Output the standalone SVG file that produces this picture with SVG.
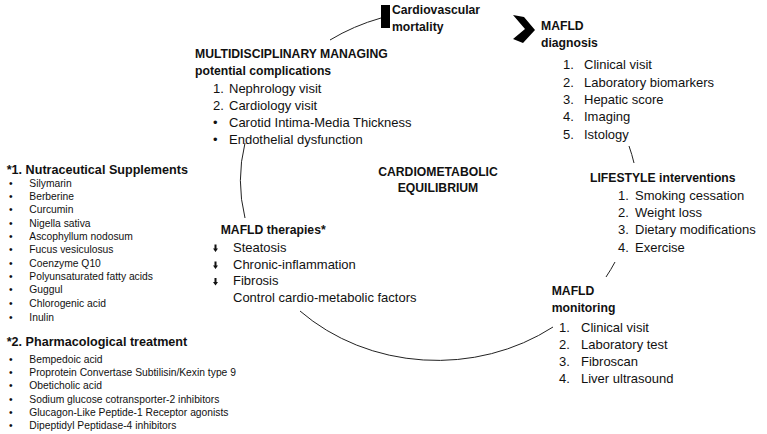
<svg xmlns="http://www.w3.org/2000/svg" width="767" height="434" viewBox="0 0 767 434">
<style>
text{font-family:"Liberation Sans",Arial,sans-serif;fill:#111}
.h{font-weight:bold;font-size:12.2px}
.t{font-size:13px}
.lh{font-weight:bold;font-size:12.6px}
.li{font-size:10.3px}
.arc{fill:none;stroke:#222;stroke-width:1}
</style>
<rect width="767" height="434" fill="#fff"/>
<g id="connectors">
<path class="arc" d="M 330 40 A 197 175 0 0 1 381 18"/>
<path class="arc" d="M 245 143 A 197 175 0 0 0 245 218"/>
<path class="arc" d="M 300 311 A 197 175 0 0 0 553 327"/>
<path class="arc" d="M 606 277 A 197 175 0 0 0 615 262"/>
<path class="arc" d="M 629 146 A 197 175 0 0 1 634 163"/>
<rect x="381" y="5" width="9" height="23" fill="#000"/>
<polygon points="513,15 524,17 535,30 523,43 513,39 525,29" fill="#000"/>
</g>
<g id="cv-mortality">
<text class="h" x="392" y="14">Cardiovascular</text>
<text class="h" x="392" y="30.5">mortality</text>
</g>
<g id="mafld-diagnosis">
<text class="h" x="541" y="30">MAFLD</text>
<text class="h" x="541" y="46.7">diagnosis</text>
<text class="t" x="563" y="69.3">1.</text><text class="t" x="584" y="69.3">Clinical visit</text>
<text class="t" x="563" y="86.6">2.</text><text class="t" x="584" y="86.6">Laboratory biomarkers</text>
<text class="t" x="563" y="103.9">3.</text><text class="t" x="584" y="103.9">Hepatic score</text>
<text class="t" x="563" y="121.2">4.</text><text class="t" x="584" y="121.2">Imaging</text>
<text class="t" x="563" y="138.5">5.</text><text class="t" x="584" y="138.5">Istology</text>
</g>
<g id="multidisciplinary">
<text class="h" x="195" y="58.3">MULTIDISCIPLINARY MANAGING</text>
<text class="h" x="195" y="74.5">potential complications</text>
<text class="t" x="213" y="92.7">1.</text><text class="t" x="229" y="92.7">Nephrology visit</text>
<text class="t" x="213" y="109.7">2.</text><text class="t" x="229" y="109.7">Cardiology visit</text>
<text class="t" x="213" y="126.7">•</text><text class="t" x="229" y="126.7">Carotid Intima-Media Thickness</text>
<text class="t" x="213" y="143.7">•</text><text class="t" x="229" y="143.7">Endothelial dysfunction</text>
</g>
<g id="center">
<text class="h" x="438" y="176" text-anchor="middle">CARDIOMETABOLIC</text>
<text class="h" x="438" y="192.3" text-anchor="middle">EQUILIBRIUM</text>
</g>
<g id="lifestyle">
<text class="h" x="590" y="181.7">LIFESTYLE interventions</text>
<text class="t" x="618" y="200">1.</text><text class="t" x="635" y="200">Smoking cessation</text>
<text class="t" x="618" y="217.2">2.</text><text class="t" x="635" y="217.2">Weight loss</text>
<text class="t" x="618" y="234.4">3.</text><text class="t" x="635" y="234.4">Dietary modifications</text>
<text class="t" x="618" y="251.6">4.</text><text class="t" x="635" y="251.6">Exercise</text>
</g>
<g id="mafld-monitoring">
<text class="h" x="551.7" y="295">MAFLD</text>
<text class="h" x="551.7" y="311.7">monitoring</text>
<text class="t" x="559" y="331.7">1.</text><text class="t" x="581" y="331.7">Clinical visit</text>
<text class="t" x="559" y="348.9">2.</text><text class="t" x="581" y="348.9">Laboratory test</text>
<text class="t" x="559" y="366.1">3.</text><text class="t" x="581" y="366.1">Fibroscan</text>
<text class="t" x="559" y="383.3">4.</text><text class="t" x="581" y="383.3">Liver ultrasound</text>
</g>
<g id="mafld-therapies">
<text class="h" x="220.7" y="234">MAFLD therapies*</text>
<path d="M214.5 244.5h2v4h1.5l-2.5 3.5l-2.5-3.5h1.5z" fill="#111"/>
<text class="t" x="233" y="251.5">Steatosis</text>
<path d="M214.5 261.5h2v4h1.5l-2.5 3.5l-2.5-3.5h1.5z" fill="#111"/>
<text class="t" x="233" y="268.5">Chronic-inflammation</text>
<path d="M214.5 278h2v4h1.5l-2.5 3.5l-2.5-3.5h1.5z" fill="#111"/>
<text class="t" x="233" y="285.3">Fibrosis</text>
<text class="t" x="233" y="302.3">Control cardio-metabolic factors</text>
</g>
<g id="nutraceutical">
<text class="lh" x="6.7" y="174">*1. Nutraceutical Supplements</text>
<g class="li">
<text class="li" x="9" y="186.7">•</text><text class="li" x="29.3" y="186.7">Silymarin</text>
<text class="li" x="9" y="200">•</text><text class="li" x="29.3" y="200">Berberine</text>
<text class="li" x="9" y="213.3">•</text><text class="li" x="29.3" y="213.3">Curcumin</text>
<text class="li" x="9" y="226.6">•</text><text class="li" x="29.3" y="226.6">Nigella sativa</text>
<text class="li" x="9" y="239.9">•</text><text class="li" x="29.3" y="239.9">Ascophyllum nodosum</text>
<text class="li" x="9" y="253.2">•</text><text class="li" x="29.3" y="253.2">Fucus vesiculosus</text>
<text class="li" x="9" y="266.5">•</text><text class="li" x="29.3" y="266.5">Coenzyme Q10</text>
<text class="li" x="9" y="279.8">•</text><text class="li" x="29.3" y="279.8">Polyunsaturated fatty acids</text>
<text class="li" x="9" y="293.1">•</text><text class="li" x="29.3" y="293.1">Guggul</text>
<text class="li" x="9" y="306.9">•</text><text class="li" x="29.3" y="306.9">Chlorogenic acid</text>
<text class="li" x="9" y="320.5">•</text><text class="li" x="29.3" y="320.5">Inulin</text>
</g>
</g>
<g id="pharmacological">
<text class="lh" x="6.7" y="346">*2. Pharmacological treatment</text>
<text class="li" x="9" y="362.7">•</text><text class="li" x="29.3" y="362.7">Bempedoic acid</text>
<text class="li" x="9" y="376">•</text><text class="li" x="29.3" y="376">Proprotein Convertase Subtilisin/Kexin type 9</text>
<text class="li" x="9" y="389.3">•</text><text class="li" x="29.3" y="389.3">Obeticholic acid</text>
<text class="li" x="9" y="402.6">•</text><text class="li" x="29.3" y="402.6">Sodium glucose cotransporter-2 inhibitors</text>
<text class="li" x="9" y="415.9">•</text><text class="li" x="29.3" y="415.9">Glucagon-Like Peptide-1 Receptor agonists</text>
<text class="li" x="9" y="429.2">•</text><text class="li" x="29.3" y="429.2">Dipeptidyl Peptidase-4 inhibitors</text>
</g>
</svg>
